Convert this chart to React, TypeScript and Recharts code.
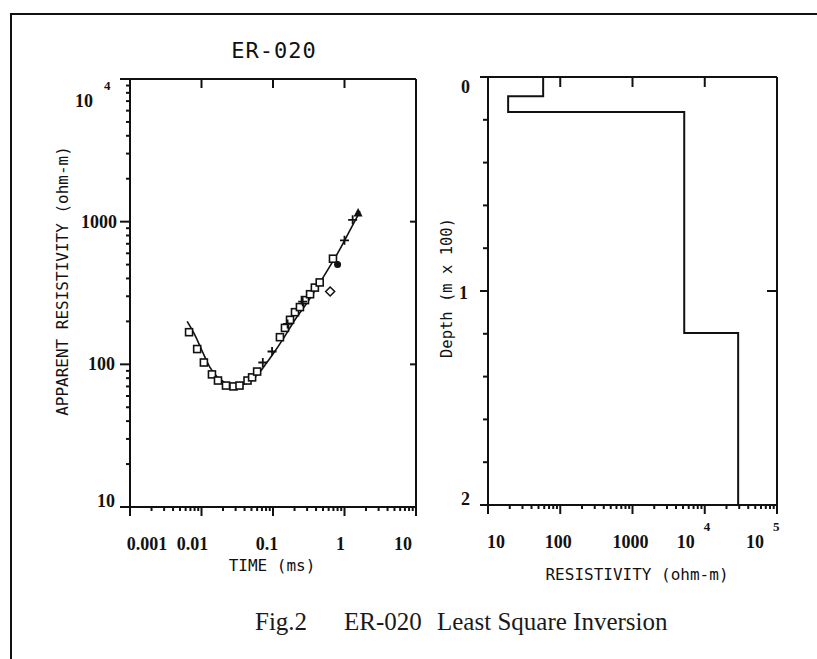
import React from 'react';
import { ComposedChart, LineChart, Line, Scatter, XAxis, YAxis } from 'recharts';

// ER-020 transient sounding: fitted response of the inverted model
const fitTime = [0.0063, 0.008, 0.01, 0.013, 0.0164, 0.02, 0.0276, 0.035, 0.048, 0.065, 0.082, 0.1, 0.14, 0.19, 0.33, 0.45, 0.6, 0.86, 1.19, 1.65];
const fitRho = [200, 162, 127, 96, 82, 76, 70, 71, 77, 88, 103, 118, 152, 195, 290, 372, 470, 640, 870, 1180];

// observed apparent resistivity, grouped by plotting symbol
const squareTime = [0.0067, 0.0087, 0.0108, 0.014, 0.017, 0.022, 0.028, 0.034, 0.044, 0.051, 0.06, 0.125, 0.147, 0.173, 0.203, 0.238, 0.28, 0.33, 0.385, 0.45, 0.69];
const squareRho = [168, 128, 103, 85, 77, 71, 70, 71, 77, 81, 89, 155, 180, 205, 232, 252, 282, 310, 345, 375, 550];
const crossTime = [0.072, 0.097, 0.16, 0.26, 1.0, 1.3];
const crossRho = [103, 123, 192, 275, 740, 1030];
const diamondTime = [0.63];
const diamondRho = [324];
const dotTime = [0.8];
const dotRho = [500];
const triTime = [1.55];
const triRho = [1150];

// layered model from least-squares inversion (depth in units of 100 m)
const layerRes = [58, 19, 5200, 29000];
const layerTop = [0, 0.09, 0.164, 1.196];
const modelBase = 2;

// axes
const timeDecades = [0.001, 0.01, 0.1, 1, 10];
const timeLabels = ['0.001', '0.01', '0.1', '1', '10'];
const rhoDecades = [10, 100, 1000, 10000];
const rhoLabels = ['10', '100', '1000', '10^4'];
const resDecades = [10, 100, 1000, 10000, 100000];
const resLabels = ['10', '100', '1000', '10^4', '10^5'];
const depthTicks = [0, 0.2, 0.4, 0.6, 0.8, 1, 1.2, 1.4, 1.6, 1.8, 2];
const depthMajor = [0, 1, 2];
const depthLabels = ['0', '1', '2'];
const minorSteps = [2, 3, 4, 5, 6, 7, 8, 9];

const INK = '#111';
const MONO = '"DejaVu Sans Mono", monospace';
const NUM = '"Liberation Serif", serif';

const zip = (xs: number[], ys: number[]) => xs.map((t, i) => ({ t, rho: ys[i] }));
const logTicks = (decades: number[]) =>
  decades.flatMap((d, i) => (i === decades.length - 1 ? [d] : [d, ...minorSteps.map(k => d * k)]));

const fit = zip(fitTime, fitRho);
const squares = zip(squareTime, squareRho);
const crosses = zip(crossTime, crossRho);
const diamonds = zip(diamondTime, diamondRho);
const dots = zip(dotTime, dotRho);
const triangles = zip(triTime, triRho);

const modelPath = layerRes.flatMap((r, i) => {
  const bottom = i + 1 < layerTop.length ? layerTop[i + 1] : modelBase;
  return [{ res: r, depth: layerTop[i] }, { res: r, depth: bottom }];
});

type Side = 'bottom' | 'left' | 'top' | 'right';
interface TickSpec {
  side: Side;
  majors: number[];
  long: number;
  short: number;
  labels?: string[];
  shifts?: number[][];
}

// draws tick marks (long on majors) and the decade labels with optional exponent
const makeTick = (spec: TickSpec) => (props: any) => {
  const { x, y, payload } = props;
  const v = payload.value;
  const mi = spec.majors.findIndex(m => Math.abs(m - v) <= Math.abs(m) * 1e-6 + 1e-9);
  const len = mi >= 0 ? spec.long : spec.short;
  const vertical = spec.side === 'bottom' || spec.side === 'top';
  const x2 = vertical ? x : x - len;
  const y2 = vertical ? y + len : y;
  const label = mi >= 0 && spec.labels ? spec.labels[mi] : undefined;
  let text = null;
  if (label && spec.shifts) {
    const [base, sup] = label.split('^');
    const [dx, dy] = spec.shifts[mi];
    const anchor = spec.side === 'left' ? 'end' : 'middle';
    text = (
      <g fill={INK} fontFamily={NUM} fontWeight="bold">
        <text x={x + dx} y={y + dy} textAnchor={anchor} fontSize={18}>{base}</text>
        {sup && (
          <text x={x + dx + (anchor === 'end' ? 11 : 18)} y={y + dy - 17} fontSize={13}>{sup}</text>
        )}
      </g>
    );
  }
  return (
    <g>
      <line x1={x} y1={y} x2={x2} y2={y2} stroke={INK} strokeWidth={2} />
      {text}
    </g>
  );
};

const axisLine = { stroke: INK, strokeWidth: 2 };

const SquareMark = (p: any) => (
  <rect x={p.cx - 3.5} y={p.cy - 3.5} width={7} height={7} fill="#fff" stroke={INK} strokeWidth={1.6} />
);
const CrossMark = (p: any) => (
  <path d={`M${p.cx - 4.5},${p.cy}H${p.cx + 4.5}M${p.cx},${p.cy - 4.5}V${p.cy + 4.5}`} stroke={INK} strokeWidth={1.8} />
);
const DiamondMark = (p: any) => (
  <path d={`M${p.cx},${p.cy - 4.5}L${p.cx + 4.5},${p.cy}L${p.cx},${p.cy + 4.5}L${p.cx - 4.5},${p.cy}Z`} fill="#fff" stroke={INK} strokeWidth={1.5} />
);
const DotMark = (p: any) => <circle cx={p.cx} cy={p.cy} r={3.5} fill={INK} />;
const TriMark = (p: any) => (
  <path d={`M${p.cx},${p.cy - 5}L${p.cx + 4.5},${p.cy + 3.5}L${p.cx - 4.5},${p.cy + 3.5}Z`} fill={INK} />
);

function SoundingCurve() {
  return (
    <ComposedChart width={817} height={659} margin={{ top: 78, right: 400, bottom: 112, left: 70 }}>
      <XAxis
        xAxisId="b"
        dataKey="t"
        type="number"
        scale="log"
        domain={[0.001, 10]}
        allowDataOverflow
        ticks={logTicks(timeDecades)}
        interval={0}
        height={40}
        tickSize={0}
        tickMargin={0}
        tickLine={false}
        axisLine={axisLine}
        tick={makeTick({
          side: 'bottom', majors: timeDecades, long: 9, short: 4, labels: timeLabels,
          shifts: [[17, 43], [-9, 43], [-6, 43], [-4, 43], [-13, 43]],
        })}
      />
      <XAxis
        xAxisId="top"
        dataKey="t"
        type="number"
        scale="log"
        orientation="top"
        domain={[0.001, 10]}
        allowDataOverflow
        ticks={[0.01, 0.1, 1]}
        interval={0}
        height={1}
        tickSize={0}
        tickMargin={0}
        tickLine={false}
        axisLine={axisLine}
        tick={makeTick({ side: 'top', majors: [0.01, 0.1, 1], long: 9, short: 9 })}
      />
      <YAxis
        yAxisId="l"
        type="number"
        scale="log"
        domain={[10, 10000]}
        allowDataOverflow
        ticks={logTicks(rhoDecades)}
        interval={0}
        width={60}
        tickSize={0}
        tickMargin={0}
        tickLine={false}
        axisLine={axisLine}
        tick={makeTick({
          side: 'left', majors: rhoDecades, long: 10, short: 4, labels: rhoLabels,
          shifts: [[-15, 0], [-15, 6], [-13, 6], [-37, 28]],
        })}
      />
      <YAxis
        yAxisId="r"
        type="number"
        scale="log"
        orientation="right"
        domain={[10, 10000]}
        allowDataOverflow
        ticks={[100, 1000]}
        interval={0}
        width={1}
        tickSize={0}
        tickMargin={0}
        tickLine={false}
        axisLine={axisLine}
        tick={makeTick({ side: 'right', majors: [100, 1000], long: 6, short: 6 })}
      />
      <Line xAxisId="b" yAxisId="l" data={fit} dataKey="rho" type="monotone" dot={false} stroke={INK} strokeWidth={1.6} isAnimationActive={false} />
      {/* same curve, carried on the mirror axes so the frame axes get drawn */}
      <Line xAxisId="top" yAxisId="r" data={fit} dataKey="rho" type="monotone" dot={false} stroke="none" isAnimationActive={false} />
      <Scatter xAxisId="b" yAxisId="l" data={squares} dataKey="rho" shape={SquareMark} isAnimationActive={false} />
      <Scatter xAxisId="b" yAxisId="l" data={crosses} dataKey="rho" shape={CrossMark} isAnimationActive={false} />
      <Scatter xAxisId="b" yAxisId="l" data={diamonds} dataKey="rho" shape={DiamondMark} isAnimationActive={false} />
      <Scatter xAxisId="b" yAxisId="l" data={dots} dataKey="rho" shape={DotMark} isAnimationActive={false} />
      <Scatter xAxisId="b" yAxisId="l" data={triangles} dataKey="rho" shape={TriMark} isAnimationActive={false} />
    </ComposedChart>
  );
}

function ModelProfile() {
  return (
    <LineChart width={817} height={659} data={modelPath} margin={{ top: 76, right: 39, bottom: 114, left: 448 }}>
      <XAxis
        xAxisId="b"
        dataKey="res"
        type="number"
        scale="log"
        domain={[10, 100000]}
        allowDataOverflow
        ticks={logTicks(resDecades)}
        interval={0}
        height={40}
        tickSize={0}
        tickMargin={0}
        tickLine={false}
        axisLine={axisLine}
        tick={makeTick({
          side: 'bottom', majors: resDecades, long: 9, short: 4, labels: resLabels,
          shifts: [[8, 43], [-2, 43], [-2, 43], [-19, 43], [-22, 43]],
        })}
      />
      <XAxis
        xAxisId="top"
        dataKey="res"
        type="number"
        scale="log"
        orientation="top"
        domain={[10, 100000]}
        allowDataOverflow
        ticks={[100, 1000, 10000]}
        interval={0}
        height={1}
        tickSize={0}
        tickMargin={0}
        tickLine={false}
        axisLine={axisLine}
        tick={makeTick({ side: 'top', majors: [100, 1000, 10000], long: 10, short: 10 })}
      />
      <YAxis
        yAxisId="l"
        type="number"
        domain={[0, 2]}
        reversed
        allowDataOverflow
        ticks={depthTicks}
        interval={0}
        width={40}
        tickSize={0}
        tickMargin={0}
        tickLine={false}
        axisLine={axisLine}
        tick={makeTick({
          side: 'left', majors: depthMajor, long: 8, short: 5, labels: depthLabels,
          shifts: [[-18, 16], [-20, 8], [-18, 0]],
        })}
      />
      <YAxis
        yAxisId="r"
        type="number"
        orientation="right"
        domain={[0, 2]}
        reversed
        allowDataOverflow
        ticks={[1]}
        interval={0}
        width={1}
        tickSize={0}
        tickMargin={0}
        tickLine={false}
        axisLine={axisLine}
        tick={makeTick({ side: 'right', majors: [1], long: 10, short: 10 })}
      />
      <Line xAxisId="b" yAxisId="l" dataKey="depth" type="linear" dot={false} stroke={INK} strokeWidth={2} isAnimationActive={false} />
      {/* same profile on the mirror axes so the frame axes get drawn */}
      <Line xAxisId="top" yAxisId="r" dataKey="depth" type="linear" dot={false} stroke="none" isAnimationActive={false} />
    </LineChart>
  );
}

export default function App() {
  const layer: React.CSSProperties = { position: 'absolute', left: 0, top: 0 };
  return (
    <div style={{ position: 'absolute', left: 0, top: 0, width: 817, height: 659, background: '#fff', overflow: 'hidden' }}>
      <div style={layer}><SoundingCurve /></div>
      <div style={layer}><ModelProfile /></div>
      <svg width={817} height={659} style={{ ...layer, pointerEvents: 'none' }}>
        <path d="M11,659V14H817" fill="none" stroke={INK} strokeWidth={2} />
        <text x={274} y={58} textAnchor="middle" fontFamily={MONO} fontSize={22} letterSpacing={1} fill={INK}>ER-020</text>
        <text transform="translate(62,281) rotate(-90)" textAnchor="middle" dominantBaseline="central" fontFamily={MONO} fontSize={16} fill={INK}>
          APPARENT RESISTIVITY (ohm-m)
        </text>
        <text x={272} y={571} textAnchor="middle" fontFamily={MONO} fontSize={16} fill={INK}>TIME (ms)</text>
        <text transform="translate(447,288) rotate(-90)" textAnchor="middle" dominantBaseline="central" fontFamily={MONO} fontSize={15.5} fill={INK}>
          Depth (m x 100)
        </text>
        <text x={637} y={580} textAnchor="middle" fontFamily={MONO} fontSize={16} fill={INK}>RESISTIVITY (ohm-m)</text>
        <g fontFamily={NUM} fontSize={25} fill="#1a1a1a">
          <text x={255} y={630}>Fig.2</text>
          <text x={344} y={630}>ER-020</text>
          <text x={437} y={630}>Least Square Inversion</text>
        </g>
      </svg>
    </div>
  );
}
